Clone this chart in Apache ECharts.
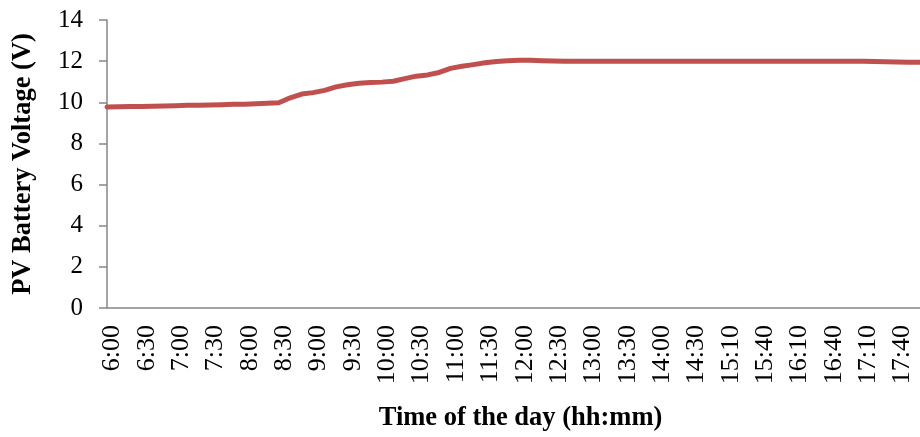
<!DOCTYPE html>
<html>
<head>
<meta charset="utf-8">
<script src="https://cdn.jsdelivr.net/npm/echarts@6/dist/echarts.min.js"></script>
<style>
html,body{margin:0;padding:0;background:#fff;}
#chart{width:920px;height:437px;}
</style>
</head>
<body>
<div id="chart"></div>
<script>
var times = ['6:00','6:10','6:20','6:30','6:40','6:50','7:00','7:10','7:20','7:30',
  '7:40','7:50','8:00','8:10','8:20','8:30','8:40','8:50','9:00','9:10',
  '9:20','9:30','9:40','9:50','10:00','10:10','10:20','10:30','10:40','10:50',
  '11:00','11:10','11:20','11:30','11:40','11:50','12:00','12:10','12:20','12:30',
  '12:40','12:50','13:00','13:10','13:20','13:30','13:40','13:50','14:00','14:10',
  '14:20','14:30','14:40','14:50','15:10','15:20','15:30','15:40','15:50','16:00',
  '16:10','16:20','16:30','16:40','16:50','17:00','17:10','17:20','17:30','17:40',
  '17:50','18:00'];
var voltage = [9.77,9.78,9.79,9.80,9.81,9.82,9.83,9.85,9.86,9.87,
  9.88,9.90,9.91,9.93,9.95,9.98,10.22,10.40,10.47,10.58,
  10.75,10.85,10.93,10.96,10.98,11.02,11.15,11.27,11.33,11.45,
  11.65,11.75,11.83,11.92,11.98,12.02,12.04,12.04,12.02,12.01,
  12.00,12.00,12.00,12.00,12.00,12.00,12.00,12.00,12.00,12.00,
  12.00,12.00,12.00,12.00,12.00,12.00,12.00,12.00,12.00,12.00,
  12.00,12.00,12.00,12.00,12.00,12.00,11.99,11.98,11.97,11.96,
  11.95,11.95];
var yTicks = {min: 0, max: 14, step: 2};
var xTitle = 'Time of the day (hh:mm)';
var yTitle = 'PV Battery Voltage (V)';

var serif = '"Liberation Serif", "Times New Roman", serif';
var axisGray = '#868686';
var chart = echarts.init(document.getElementById('chart'));
chart.setOption({
  animation: false,
  backgroundColor: '#ffffff',
  grid: {left: 107, right: -5, top: 20, bottom: 126, containLabel: false},
  xAxis: {
    type: 'category',
    data: times,
    boundaryGap: false,
    axisLine: {show: true, lineStyle: {color: axisGray, width: 1.5}},
    axisTick: {show: false},
    splitLine: {show: false},
    axisLabel: {
      interval: 2,
      rotate: 90,
      margin: 17,
      color: '#000',
      fontFamily: serif,
      fontSize: 26,
      verticalAlign: 'top',
      lineHeight: 11
    },
    name: xTitle,
    nameLocation: 'middle',
    nameGap: 97,
    nameTextStyle: {color: '#000', fontFamily: serif, fontSize: 26.5, fontWeight: 'bold', padding: [0, 0, 0, 14]}
  },
  yAxis: {
    type: 'value',
    min: yTicks.min,
    max: yTicks.max,
    interval: yTicks.step,
    axisLine: {show: true, lineStyle: {color: axisGray, width: 1.5}},
    axisTick: {show: true, inside: false, length: 8, lineStyle: {color: axisGray, width: 1.5}},
    splitLine: {show: false},
    axisLabel: {color: '#000', fontFamily: serif, fontSize: 25, margin: 24},
    name: yTitle,
    nameLocation: 'middle',
    nameGap: 70,
    nameRotate: 90,
    nameTextStyle: {color: '#000', fontFamily: serif, fontSize: 26.5, fontWeight: 'bold'}
  },
  series: [{
    type: 'line',
    data: voltage,
    symbol: 'none',
    smooth: false,
    clip: true,
    lineStyle: {color: '#C0504D', width: 5, join: 'round', cap: 'round'}
  }]
});
</script>
</body>
</html>
